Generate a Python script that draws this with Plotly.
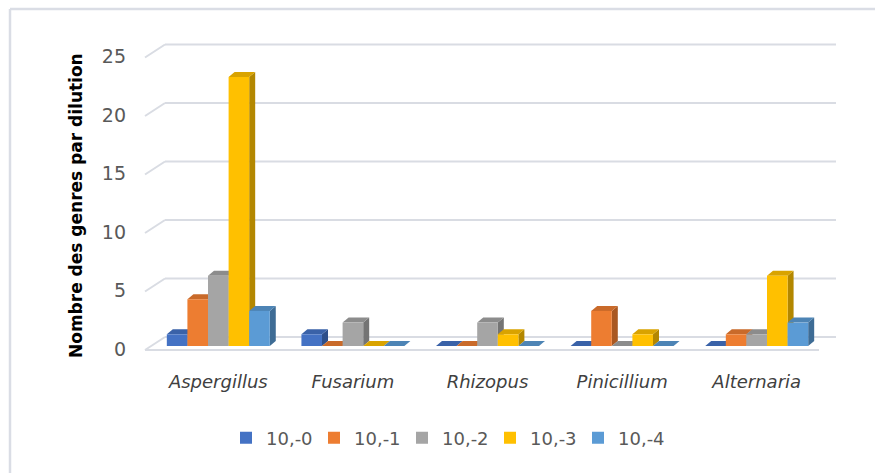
import plotly.graph_objects as go

# Counts of fungal genera per dilution
genres = ["Aspergillus", "Fusarium", "Rhizopus", "Pinicillium", "Alternaria"]
dilutions = ["10,-0", "10,-1", "10,-2", "10,-3", "10,-4"]
d_0 = [1, 1, 0, 0, 0]
d_1 = [4, 0, 0, 3, 1]
d_2 = [6, 2, 2, 0, 1]
d_3 = [23, 0, 1, 1, 6]
d_4 = [3, 0, 0, 0, 2]
series = [d_0, d_1, d_2, d_3, d_4]
y_ticks = [0, 5, 10, 15, 20, 25]
y_title = "Nombre des genres par dilution"

# Face colours: front, top, side
front = ["#4472C4", "#ED7D31", "#A5A5A5", "#FFC000", "#5B9BD5"]
top = ["#3A62A8", "#C96A2A", "#8C8C8C", "#D9A300", "#4D84B5"]
side = ["#2E4F8A", "#A95822", "#747474", "#B38700", "#3E6C95"]

# Layout geometry (pixels)
W, H = 875, 473
L, R, T, B = 151, 51, 40, 118
plot_w = W - L - R
plot_h = H - T - B
y_lo = -9 / 11.7
y_hi = y_lo + plot_h / 11.7
x_lo, x_hi = -0.5, len(genres) - 0.5
px_x = plot_w / (x_hi - x_lo)      # pixels per category unit
px_y = plot_h / (y_hi - y_lo)      # pixels per value unit


def paper_x(px):
    return (px - L) / plot_w


def paper_y(py):
    return (H - B - py) / plot_h


# 3D depth of each box in data units
depth_dx = 6 / px_x
depth_dy = 5 / px_y

bar_w = 0.153
n = len(series)
offsets = [-n * bar_w / 2 + j * bar_w for j in range(n)]

fig = go.Figure()
xs = list(range(len(genres)))
for j, vals in enumerate(series):
    fig.add_trace(go.Bar(
        x=xs, y=vals, name=dilutions[j], width=bar_w, offset=offsets[j],
        marker=dict(color=front[j], line=dict(width=0)),
    ))

shapes = []
grid_col = "#D9DCE3"
# Back wall gridlines and left wall diagonals
for v in y_ticks:
    shapes.append(dict(type="line", layer="below", xref="paper", yref="y",
                       ysizemode="pixel", yanchor=v,
                       x0=paper_x(165), x1=paper_x(836), y0=9, y1=9,
                       line=dict(color=grid_col, width=2)))
    shapes.append(dict(type="line", layer="below", xref="paper", yref="y",
                       ysizemode="pixel", yanchor=v,
                       x0=paper_x(145), x1=paper_x(165), y0=-4, y1=9,
                       line=dict(color=grid_col, width=2)))
# Front edge of the floor
shapes.append(dict(type="line", layer="below", xref="paper", yref="y",
                   ysizemode="pixel", yanchor=0,
                   x0=paper_x(145), x1=paper_x(819), y0=-4, y1=-4,
                   line=dict(color=grid_col, width=2)))

# Side faces first, then top faces, so each top sits over its left neighbour's side
side_shapes, top_shapes = [], []
for j, vals in enumerate(series):
    for i, v in enumerate(vals):
        xl = i + offsets[j]
        xr = xl + bar_w
        side_shapes.append(dict(
            type="path", layer="below", xref="x", yref="y",
            path=(f"M{xr},0 L{xr + depth_dx},{depth_dy} "
                  f"L{xr + depth_dx},{v + depth_dy} L{xr},{v} Z"),
            fillcolor=side[j], line=dict(width=0)))
        top_shapes.append(dict(
            type="path", layer="below", xref="x", yref="y",
            path=(f"M{xl},{v} L{xr},{v} L{xr + depth_dx},{v + depth_dy} "
                  f"L{xl + depth_dx},{v + depth_dy} Z"),
            fillcolor=top[j], line=dict(width=0)))
shapes += side_shapes + top_shapes

# Chart border (top and left edges)
border_col = "#DADDE5"
shapes.append(dict(type="line", layer="below", xref="paper", yref="paper",
                   x0=paper_x(10), x1=paper_x(880), y0=paper_y(9), y1=paper_y(9),
                   line=dict(color=border_col, width=2.5)))
shapes.append(dict(type="line", layer="below", xref="paper", yref="paper",
                   x0=paper_x(10), x1=paper_x(10), y0=paper_y(9), y1=paper_y(480),
                   line=dict(color=border_col, width=2.5)))

font_family = "DejaVu Sans"
fig.update_layout(
    width=W, height=H,
    margin=dict(l=L, r=R, t=T, b=B, pad=0),
    paper_bgcolor="white", plot_bgcolor="rgba(0,0,0,0)",
    barmode="overlay",
    showlegend=True,
    legend=dict(orientation="h", x=paper_x(446), xanchor="center", y=paper_y(438),
                yanchor="middle", font=dict(family=font_family, size=18, color="#595959"),
                traceorder="normal", entrywidth=43),
    shapes=shapes,
    annotations=[dict(text=f"<b>{y_title}</b>", textangle=-90, showarrow=False,
                      xref="paper", yref="paper", x=paper_x(76), y=paper_y(206),
                      xanchor="center", yanchor="middle",
                      font=dict(family=font_family, size=17, color="#000000"))],
    xaxis=dict(range=[x_lo, x_hi], tickvals=xs, ticktext=genres,
               showgrid=False, zeroline=False, showline=False, ticks="",
               ticklabelstandoff=14,
               tickfont=dict(family=font_family, size=18, color="#404040", style="italic")),
    yaxis=dict(range=[y_lo, y_hi], tickvals=y_ticks, showgrid=False, zeroline=False,
               showline=False, ticks="", ticklabelstandoff=24, ticklabelshift=3,
               tickfont=dict(family=font_family, size=19, color="#595959")),
)

fig.write_html("out.html")
